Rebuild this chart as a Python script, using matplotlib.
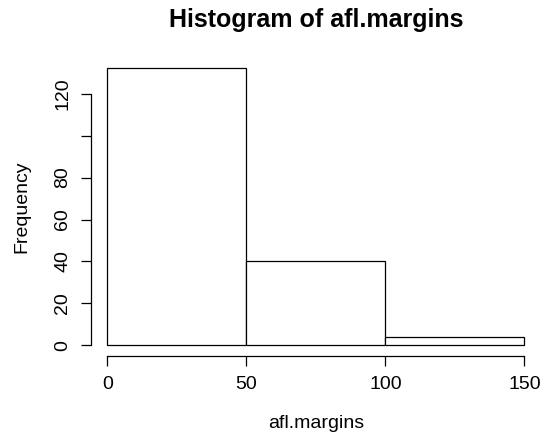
import numpy as np
import matplotlib.pyplot as plt

plt.rcParams['font.family'] = ['Liberation Sans', 'DejaVu Sans']

# histogram data (afl.margins)
bin_edges = [0, 50, 100, 150]
counts = [132, 40, 4]
x_ticks = [0, 50, 100, 150]
y_ticks = [0, 20, 40, 60, 80, 100, 120]
y_ticklabels = ['0', '20', '40', '60', '80', '', '120']

fig = plt.figure(figsize=(5.48, 4.37), dpi=100)
ax = fig.add_axes([0.1653, 0.1844, 0.822, 0.6842])

ax.hist(bin_edges[:-1], bins=bin_edges, weights=counts,
        facecolor='white', edgecolor='black', linewidth=0.9)

ax.set_xlim(-6, 156)
ax.set_ylim(-0.04 * max(counts), max(counts) * 1.04)

# R-style axes
for s in ['top', 'right']:
    ax.spines[s].set_visible(False)
ax.spines['bottom'].set_bounds(0, 150)
ax.spines['left'].set_bounds(0, 120)
ax.spines['bottom'].set_linewidth(0.9)
ax.spines['left'].set_linewidth(0.9)

ax.set_xticks(x_ticks)
ax.set_yticks(y_ticks)
ax.set_yticklabels(y_ticklabels, rotation=90, va='center')
ax.tick_params(axis='both', length=7, width=0.9, labelsize=14, pad=7)

cx = 0.1653 + 0.822 / 2
cy = 0.1844 + 0.6842 / 2
fig.text(cx, 0.032, 'afl.margins', fontsize=14, ha='center', va='center')
fig.text(0.040, cy, 'Frequency', fontsize=14, rotation=90,
         ha='center', va='center')
fig.text(cx, 0.954, 'Histogram of afl.margins', fontsize=18,
         fontweight='bold', ha='center', va='center')

fig.savefig('out.png', dpi=100)
